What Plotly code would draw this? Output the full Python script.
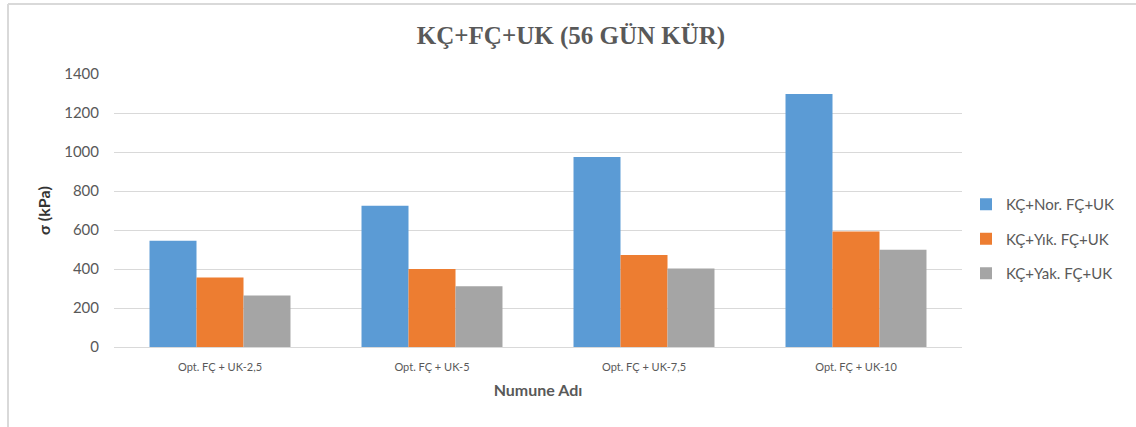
import plotly.graph_objects as go

categories = ["Opt. FÇ + UK-2,5", "Opt. FÇ + UK-5", "Opt. FÇ + UK-7,5", "Opt. FÇ + UK-10"]
series_names = ["KÇ+Nor. FÇ+UK", "KÇ+Yık. FÇ+UK", "KÇ+Yak. FÇ+UK"]
normal_vals = [545, 725, 975, 1298]
yikanmis_vals = [357, 400, 472, 592]
yakilmis_vals = [264, 311, 403, 499]
y_ticks = [0, 200, 400, 600, 800, 1000, 1200, 1400]

colors = ["#5B9BD5", "#ED7D31", "#A5A5A5"]
text_color = "#595959"
grid_color = "#D9D9D9"
sans = "Lato, 'Liberation Sans', sans-serif"

W, H = 1136, 427
L, R, T, B = 114, 174, 74, 80

fig = go.Figure()
for name, vals, col in zip(series_names, [normal_vals, yikanmis_vals, yakilmis_vals], colors):
    fig.add_trace(go.Bar(
        x=categories, y=vals, name=name, legendgroup=name,
        marker=dict(color=col, line=dict(width=0)),
    ))

# outer chart border (top and left edges)
def px_x(p):
    return (p - L) / (W - L - R)

def px_y(p):
    return (H - B - p) / (H - T - B)

shapes = [
    dict(type="line", xref="paper", yref="paper",
         x0=px_x(8), x1=px_x(1136), y0=px_y(4), y1=px_y(4),
         line=dict(color="#D9D9D9", width=2)),
    dict(type="line", xref="paper", yref="paper",
         x0=px_x(8), x1=px_x(8), y0=px_y(4), y1=px_y(427),
         line=dict(color="#D9D9D9", width=2)),
]

fig.update_layout(
    width=W, height=H,
    margin=dict(l=L, r=R, t=T, b=B, pad=0),
    paper_bgcolor="white", plot_bgcolor="white",
    barmode="group", bargap=0.335, bargroupgap=0,
    title=dict(
        text="<b>KÇ+FÇ+UK (56 GÜN KÜR)</b>",
        font=dict(family="'Liberation Serif', 'Times New Roman', serif", size=25, color=text_color),
        x=571 / W, xref="container", xanchor="center",
        y=1 - 35 / H, yref="container", yanchor="middle",
    ),
    xaxis=dict(
        tickfont=dict(family=sans, size=11, color=text_color),
        showline=True, linecolor=grid_color, linewidth=1,
        ticks="", showgrid=False, ticklabelstandoff=10,
        title=dict(text="<b>Numune Adı</b>", font=dict(family=sans, size=16, color=text_color), standoff=12),
    ),
    yaxis=dict(
        range=[0, 1400], tickvals=y_ticks,
        tickfont=dict(family=sans, size=15, color=text_color),
        showgrid=True, gridcolor=grid_color, gridwidth=1,
        zeroline=True, zerolinecolor=grid_color, zerolinewidth=1,
        ticks="", ticklabelstandoff=14,
        title=dict(text="<b>σ (kPa)</b>", font=dict(family=sans, size=16, color="#333333"), standoff=9),
    ),
    legend=dict(
        x=px_x(966), xanchor="left", y=px_y(239), yanchor="middle",
        font=dict(family=sans, size=15, color=text_color),
        tracegroupgap=12, itemwidth=30, traceorder="grouped",
    ),
    shapes=shapes,
)

fig.write_html("out.html")
